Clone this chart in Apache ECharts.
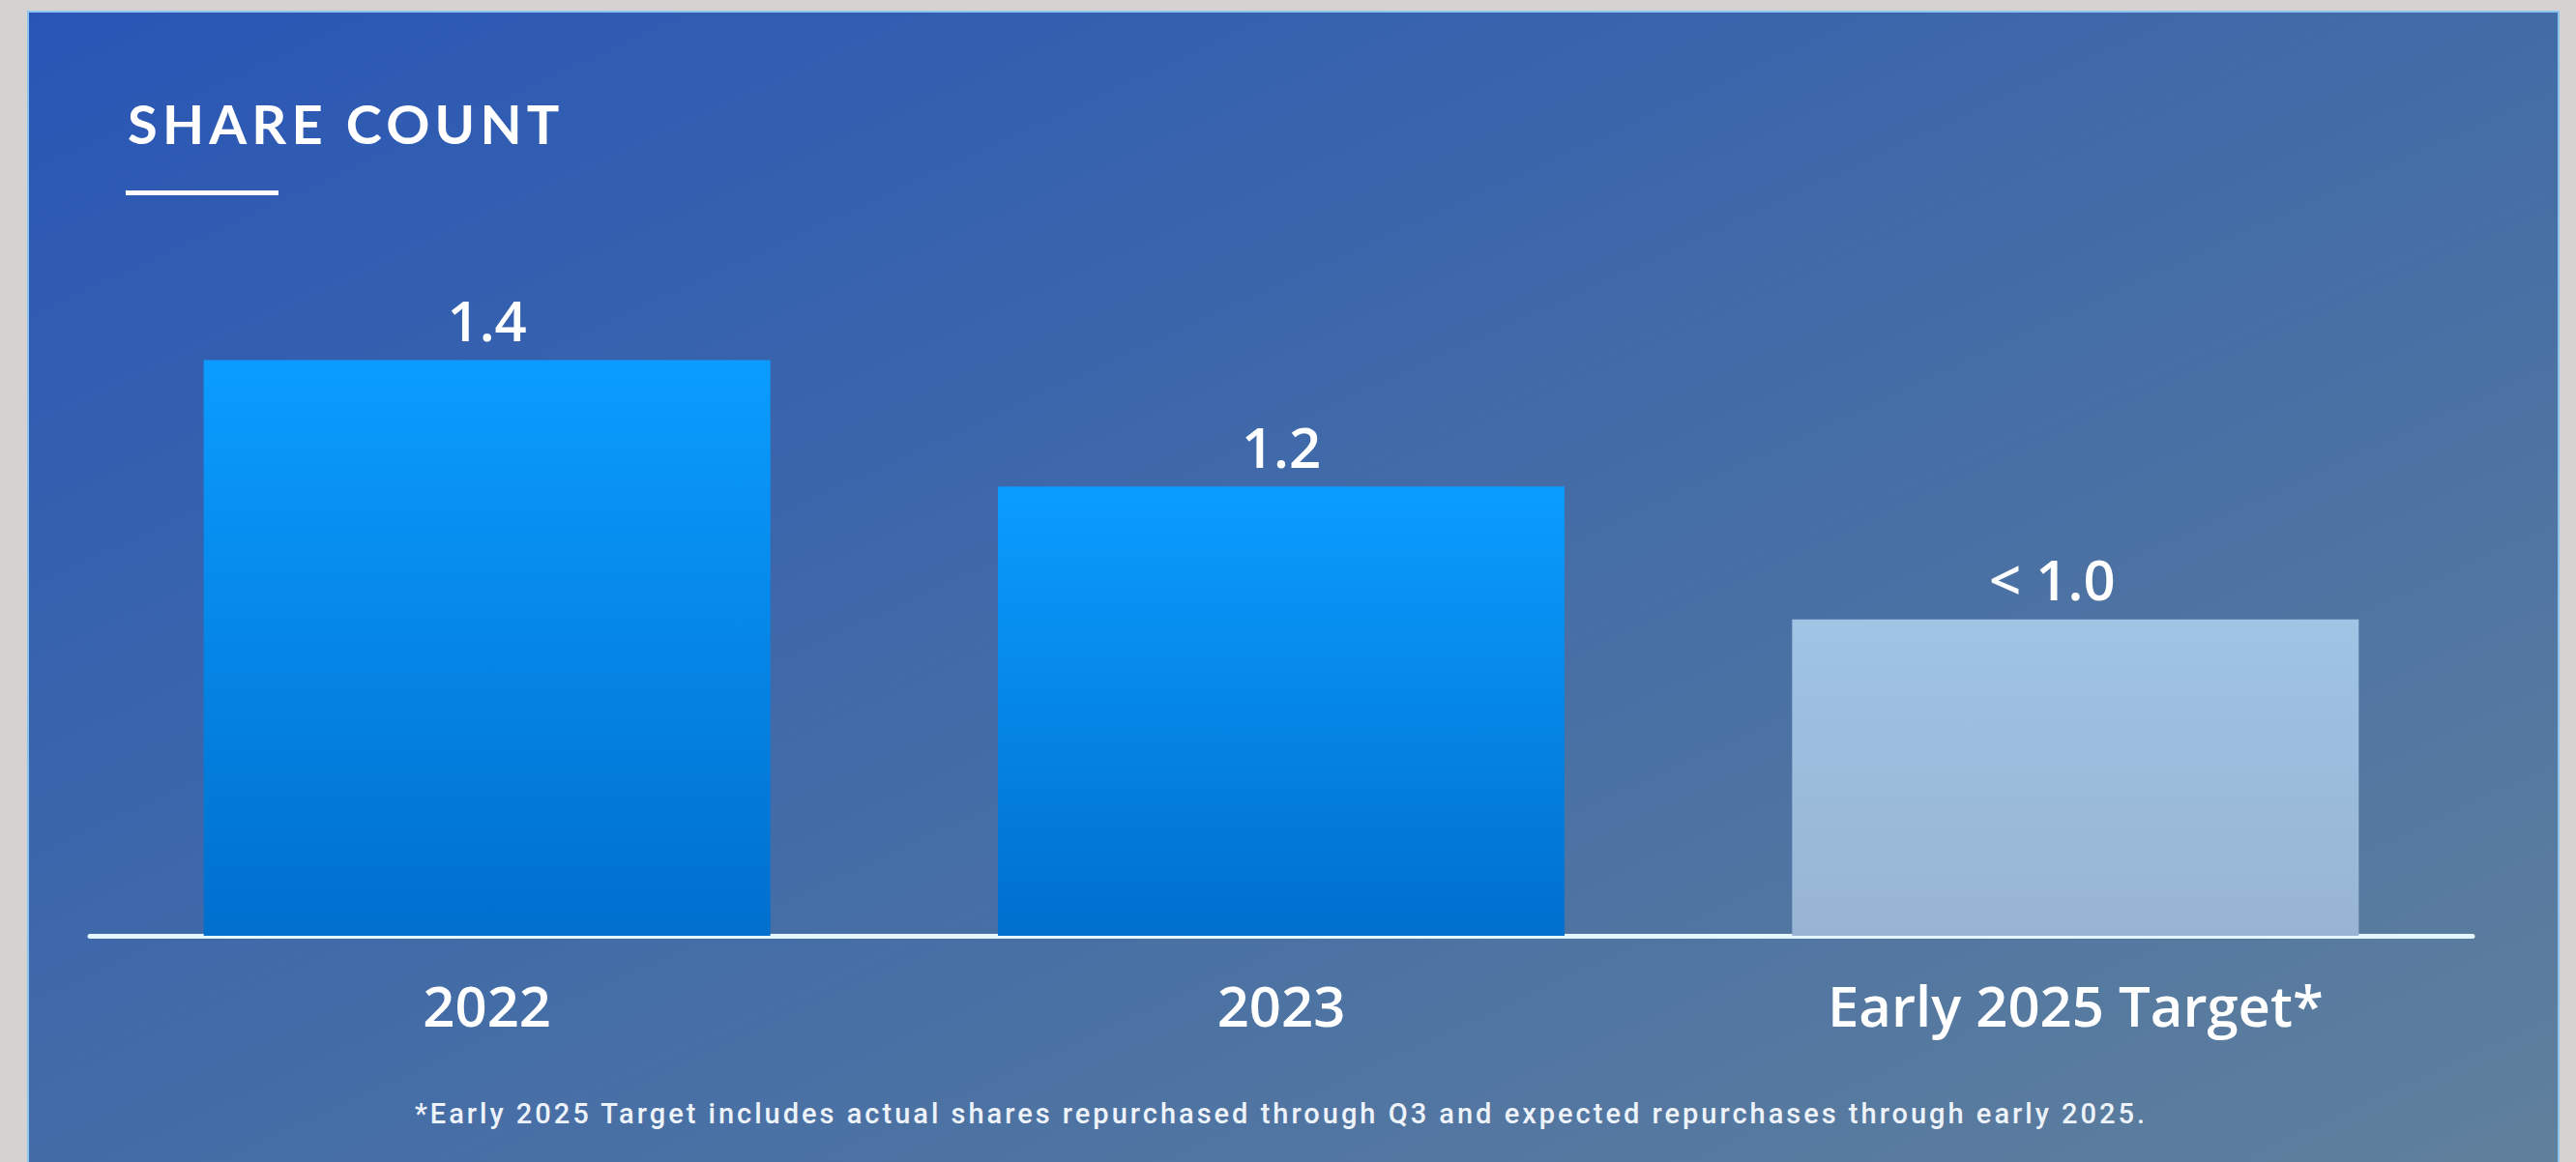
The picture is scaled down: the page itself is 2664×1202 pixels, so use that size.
<!DOCTYPE html>
<html>
<head>
<meta charset="utf-8">
<script src="https://cdn.jsdelivr.net/npm/echarts@6/dist/echarts.min.js"></script>
<style>
  html, body { margin: 0; padding: 0; background: #d6d2d2; }
  #chart { width: 2664px; height: 1202px; }
  /* spaced-out heading and footnote lettering */
  #chart text[style*="Lato"] { letter-spacing: 5.2px; }
  #chart text[style*="Roboto"] { letter-spacing: 3px; }
</style>
</head>
<body>
<div id="chart"></div>
<script>
// Share count (billions)
const categories = ['2022', '2023', 'Early 2025 Target*'];
const shareCount = [1.4, 1.2, 0.99];
const valueLabels = ['1.4', '1.2', '< 1.0'];
const titleText = 'SHARE COUNT';
const footnoteText = '*Early 2025 Target includes actual shares repurchased through Q3 and expected repurchases through early 2025.';

const solidBlue = {
  type: 'linear', x: 0, y: 0, x2: 0, y2: 1,
  colorStops: [
    { offset: 0, color: '#0a9dff' },
    { offset: 1, color: '#006fce' }
  ]
};
const paleBlue = {
  type: 'linear', x: 0, y: 0, x2: 0, y2: 1,
  colorStops: [
    { offset: 0, color: '#9fc4e4' },
    { offset: 1, color: '#98b4d4' }
  ]
};

const barData = shareCount.map((v, i) => ({
  value: v,
  itemStyle: { color: i < 2 ? solidBlue : paleBlue },
  label: i === 2 ? { offset: [-24, 0] } : undefined
}));

const chart = echarts.init(document.getElementById('chart'), null, { renderer: 'svg' });

chart.setOption({
  backgroundColor: '#d6d2d2',
  animation: false,
  grid: { left: 93, right: 107, top: 307, bottom: 234 },
  xAxis: {
    type: 'category',
    data: categories,
    axisLine: { lineStyle: { color: '#e4f6ff', width: 5 } },
    axisTick: { show: false },
    axisLabel: {
      color: '#ffffff',
      fontFamily: 'Open Sans',
      fontWeight: 600,
      fontSize: 58,
      margin: 42
    }
  },
  yAxis: {
    type: 'value',
    min: 0.49,
    max: 1.5,
    show: false,
    splitLine: { show: false }
  },
  graphic: [
    {
      type: 'rect', z: -10, silent: true,
      shape: { x: 29, y: 12, width: 2617, height: 1200 },
      style: {
        fill: {
          type: 'linear', x: 0, y: 0, x2: 1, y2: 1,
          colorStops: [
            { offset: 0, color: '#2956b6' },
            { offset: 0.5, color: '#436ca7' },
            { offset: 1, color: '#60809c' }
          ]
        },
        stroke: '#8cc4f0',
        lineWidth: 2
      }
    },
    {
      type: 'text', z: 10, silent: true,
      style: {
        x: 132, y: 127,
        text: titleText,
        fill: '#ffffff',
        font: 'bold 56px Lato',
        textAlign: 'left',
        textVerticalAlign: 'middle'
      }
    },
    {
      type: 'rect', z: 10, silent: true,
      shape: { x: 130, y: 197, width: 158, height: 5 },
      style: { fill: '#ffffff' }
    },
    {
      type: 'text', z: 10, silent: true,
      style: {
        x: 1325, y: 1152,
        text: footnoteText,
        fill: '#eef3fa',
        font: '500 29px Roboto',
        textAlign: 'center',
        textVerticalAlign: 'middle'
      }
    }
  ],
  series: [{
    type: 'bar',
    data: barData,
    barWidth: 586,
    label: {
      show: true,
      position: 'top',
      distance: 13,
      color: '#ffffff',
      fontFamily: 'Open Sans',
      fontWeight: 600,
      fontSize: 58,
      formatter: p => valueLabels[p.dataIndex]
    }
  }]
});
</script>
</body>
</html>
